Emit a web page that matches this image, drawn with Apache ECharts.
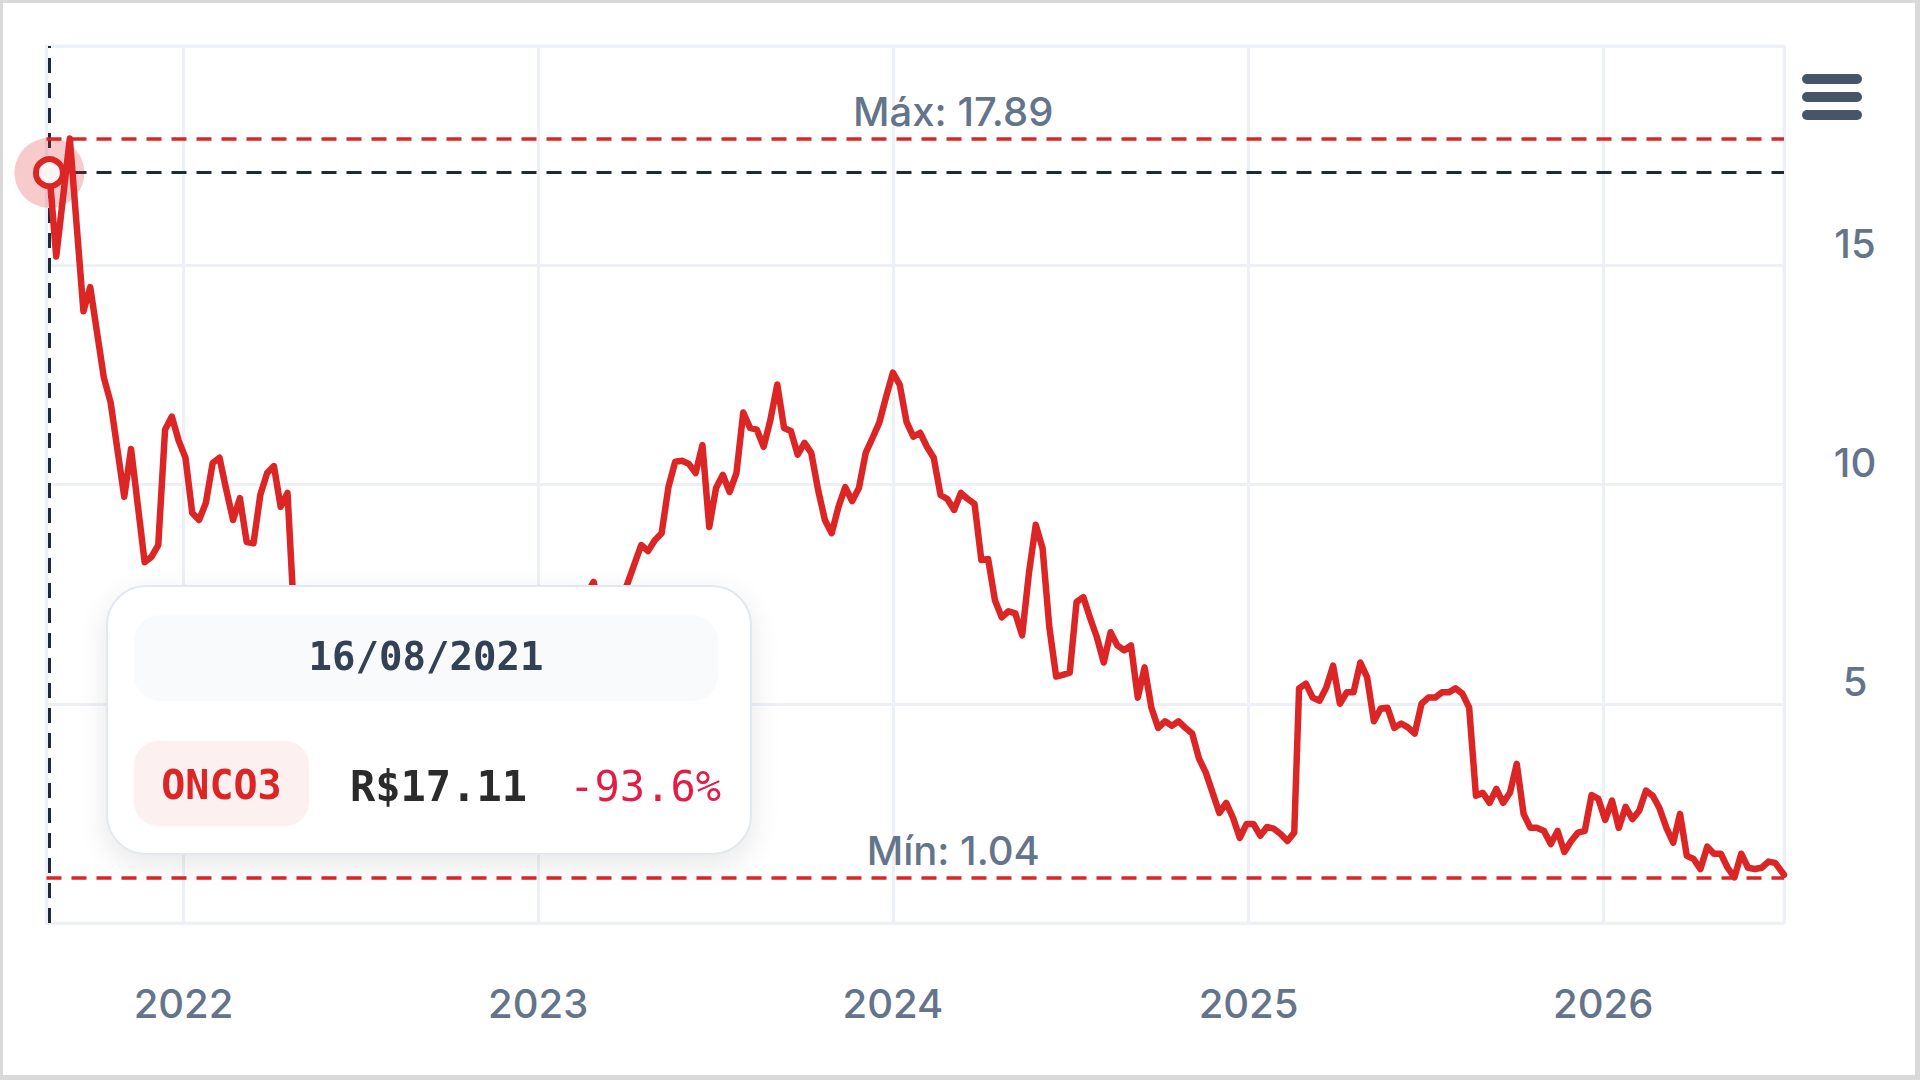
<!DOCTYPE html>
<html>
<head>
<meta charset="utf-8">
<script src="https://cdn.jsdelivr.net/npm/echarts@6/dist/echarts.min.js"></script>
<style>
  html, body { margin: 0; padding: 0; background: #ffffff; }
  #chart { position: absolute; left: 0; top: 0; width: 1920px; height: 1080px; }
  #frame { position: absolute; left: 0; top: 0; width: 1920px; height: 1080px; box-sizing: border-box;
           border-style: solid; border-color: #d9d9d9; border-width: 3px 5px 5px 3px; pointer-events: none; }
</style>
</head>
<body>
<div id="chart"></div>
<div id="frame"></div>
<script>
// ---------------- data ----------------
const ticker = 'ONCO3';
const maxLabel = 'Máx';
const minLabel = 'Mín';
const axisStart = '2021-08-13';   // time axis starts a few days before the first quote

const y2021 = [
  ['2021-08-16',17.11],['2021-08-23',15.20],['2021-09-06',17.89],['2021-09-20',13.95],['2021-09-27',14.50],
  ['2021-10-11',12.44],['2021-10-18',11.87],['2021-11-01',9.72],['2021-11-08',10.81],['2021-11-22',8.23],
  ['2021-11-29',8.35],['2021-12-06',8.62],['2021-12-13',11.25],['2021-12-20',11.55],['2021-12-27',11.00]
];
const y2022 = [
  ['2022-01-03',10.61],['2022-01-10',9.35],['2022-01-17',9.19],['2022-01-24',9.58],['2022-01-31',10.49],
  ['2022-02-07',10.61],['2022-02-14',9.88],['2022-02-21',9.19],['2022-02-28',9.69],['2022-03-07',8.69],
  ['2022-03-14',8.66],['2022-03-21',9.76],['2022-03-28',10.26],['2022-04-04',10.42],['2022-04-11',9.49],
  ['2022-04-18',9.81],['2022-04-25',6.90],['2022-05-02',6.55],['2022-05-09',6.85],['2022-05-16',6.30],
  ['2022-05-23',5.95],['2022-05-30',6.20],['2022-06-06',5.60],['2022-06-13',5.25],['2022-06-20',5.50],
  ['2022-06-27',4.95],['2022-07-04',5.30],['2022-07-11',5.80],['2022-07-18',5.40],['2022-07-25',6.10],
  ['2022-08-01',6.45],['2022-08-08',6.00],['2022-08-15',5.70],['2022-08-22',6.25],['2022-08-29',6.00],
  ['2022-09-05',5.50],['2022-09-12',5.10],['2022-09-19',5.40],['2022-09-26',4.85],['2022-10-03',5.05],
  ['2022-10-10',5.60],['2022-10-17',6.15],['2022-10-24',6.55],['2022-10-31',6.10],['2022-11-07',5.80],
  ['2022-11-14',5.30],['2022-11-21',5.00],['2022-11-28',5.35],['2022-12-05',5.20],['2022-12-12',4.90],
  ['2022-12-19',5.30],['2022-12-26',5.60]
];
const y2023 = [
  ['2023-01-02',5.90],['2023-01-09',6.40],['2023-01-16',6.20],['2023-01-23',6.80],['2023-01-30',7.10],
  ['2023-02-06',6.70],['2023-02-13',7.05],['2023-02-20',7.50],['2023-02-27',7.78],['2023-03-06',7.10],
  ['2023-03-13',6.90],['2023-03-20',7.20],['2023-03-27',7.35],['2023-04-03',7.75],['2023-04-17',8.62],
  ['2023-04-24',8.48],['2023-05-01',8.73],['2023-05-08',8.89],['2023-05-15',9.94],['2023-05-22',10.52],
  ['2023-05-29',10.54],['2023-06-05',10.47],['2023-06-12',10.26],['2023-06-19',10.90],['2023-06-26',9.03],
  ['2023-07-03',9.92],['2023-07-10',10.22],['2023-07-17',9.83],['2023-07-24',10.26],['2023-07-31',11.64],
  ['2023-08-07',11.29],['2023-08-14',11.25],['2023-08-21',10.86],['2023-08-28',11.48],['2023-09-04',12.28],
  ['2023-09-11',11.29],['2023-09-18',11.22],['2023-09-25',10.68],['2023-10-02',10.95],['2023-10-09',10.72],
  ['2023-10-16',9.88],['2023-10-23',9.19],['2023-10-30',8.89],['2023-11-06',9.49],['2023-11-13',9.94],
  ['2023-11-20',9.62],['2023-11-27',9.92],['2023-12-04',10.72],['2023-12-11',11.06],['2023-12-18',11.41],
  ['2023-12-25',12.00]
];
const y2024 = [
  ['2024-01-01',12.55],['2024-01-08',12.28],['2024-01-15',11.43],['2024-01-22',11.09],['2024-01-29',11.18],
  ['2024-02-05',10.86],['2024-02-12',10.61],['2024-02-19',9.76],['2024-02-26',9.67],['2024-03-04',9.42],
  ['2024-03-11',9.81],['2024-03-18',9.67],['2024-03-25',9.56],['2024-04-01',8.28],['2024-04-08',8.30],
  ['2024-04-15',7.36],['2024-04-22',6.97],['2024-04-29',7.11],['2024-05-06',7.06],['2024-05-13',6.56],
  ['2024-05-20',7.98],['2024-05-27',9.08],['2024-06-03',8.55],['2024-06-10',6.74],['2024-06-17',5.62],
  ['2024-06-24',5.66],['2024-07-01',5.71],['2024-07-08',7.32],['2024-07-15',7.43],['2024-07-22',6.95],
  ['2024-07-29',6.51],['2024-08-05',5.94],['2024-08-12',6.63],['2024-08-19',6.33],['2024-08-26',6.22],
  ['2024-09-02',6.33],['2024-09-09',5.14],['2024-09-16',5.83],['2024-09-23',4.91],['2024-09-30',4.45],
  ['2024-10-07',4.60],['2024-10-14',4.50],['2024-10-21',4.60],['2024-10-28',4.45],['2024-11-04',4.32],
  ['2024-11-11',3.75],['2024-11-18',3.43],['2024-12-02',2.51],['2024-12-09',2.74],['2024-12-16',2.40],
  ['2024-12-23',1.94],['2024-12-30',2.26]
];
const y2025 = [
  ['2025-01-06',2.26],['2025-01-13',1.99],['2025-01-20',2.19],['2025-01-27',2.15],['2025-02-03',2.03],
  ['2025-02-10',1.87],['2025-02-17',2.06],['2025-02-22',5.35],['2025-03-01',5.46],['2025-03-08',5.14],
  ['2025-03-15',5.07],['2025-03-22',5.37],['2025-03-29',5.87],['2025-04-05',5.00],['2025-04-12',5.26],
  ['2025-04-19',5.26],['2025-04-26',5.94],['2025-05-03',5.60],['2025-05-10',4.60],['2025-05-17',4.89],
  ['2025-05-24',4.91],['2025-05-31',4.45],['2025-06-07',4.55],['2025-06-14',4.46],['2025-06-21',4.32],
  ['2025-06-28',5.00],['2025-07-05',5.14],['2025-07-12',5.14],['2025-07-19',5.26],['2025-07-26',5.26],
  ['2025-08-02',5.35],['2025-08-09',5.23],['2025-08-16',4.91],['2025-08-23',2.90],['2025-08-30',2.97],
  ['2025-09-06',2.74],['2025-09-13',3.06],['2025-09-20',2.74],['2025-09-27',2.97],['2025-10-04',3.63],
  ['2025-10-11',2.49],['2025-10-18',2.17],['2025-10-25',2.17],['2025-11-01',2.10],['2025-11-08',1.80],
  ['2025-11-15',2.10],['2025-11-22',1.62],['2025-11-29',1.87],['2025-12-06',2.06],['2025-12-13',2.10],
  ['2025-12-20',2.92],['2025-12-27',2.83]
];
const y2026 = [
  ['2026-01-03',2.35],['2026-01-10',2.79],['2026-01-17',2.17],['2026-01-24',2.65],['2026-01-31',2.37],
  ['2026-02-07',2.56],['2026-02-14',3.02],['2026-02-21',2.90],['2026-02-28',2.61],['2026-03-07',2.17],
  ['2026-03-14',1.83],['2026-03-21',2.49],['2026-03-28',1.53],['2026-04-04',1.46],['2026-04-11',1.23],
  ['2026-04-18',1.74],['2026-04-25',1.58],['2026-05-02',1.58],['2026-05-09',1.26],['2026-05-16',1.04],
  ['2026-05-23',1.58],['2026-05-30',1.26],['2026-06-06',1.23],['2026-06-13',1.26],['2026-06-20',1.40],
  ['2026-06-27',1.37],['2026-07-06',1.10]
];
const yTickInterval = 5;
const yMin = 0, yMax = 20;

// ---------------- helpers ----------------
function toTs(s) { const p = s.split('-').map(Number); return new Date(p[0], p[1] - 1, p[2]).getTime(); }
function fmtDate(s) { const p = s.split('-'); return p[2] + '/' + p[1] + '/' + p[0]; }

const raw = [].concat(y2021, y2022, y2023, y2024, y2025, y2026);
const seriesData = raw.map(r => [toTs(r[0]), r[1]]);
const first = raw[0], last = raw[raw.length - 1];
const changePct = (last[1] - first[1]) / first[1] * 100;

const FONT = 'Inter';
const LABEL_COLOR = '#64748b';
const RED = '#dc2626';
const GRID_COLOR = '#edf1f7';
const CROSS = { color: '#1e293b', width: 3, type: [15, 10] };

const chart = echarts.init(document.getElementById('chart'), null, { renderer: 'svg', width: 1920, height: 1080 });

const option = {
  animation: false,
  backgroundColor: '#ffffff',
  textStyle: { fontFamily: FONT },
  grid: {
    left: 46.5, right: 136, top: 46, bottom: 157,
    show: true, borderColor: GRID_COLOR, borderWidth: 3, backgroundColor: 'transparent',
    containLabel: false, outerBoundsMode: 'none'
  },
  xAxis: {
    type: 'time',
    min: toTs(axisStart),
    max: seriesData[seriesData.length - 1][0],
    minInterval: 365 * 24 * 3600 * 1000,
    maxInterval: 366 * 24 * 3600 * 1000,
    axisLine: { show: false },
    axisTick: { show: false },
    splitLine: { show: true, lineStyle: { color: GRID_COLOR, width: 3 } },
    axisLabel: {
      formatter: '{yyyy}', showMinLabel: false, showMaxLabel: false,
      color: LABEL_COLOR, fontSize: 40, fontWeight: 500, fontFamily: FONT,
      margin: 60, lineHeight: 40
    }
  },
  yAxis: {
    type: 'value', position: 'right',
    min: yMin, max: yMax, interval: yTickInterval,
    axisLine: { show: false },
    axisTick: { show: false },
    splitLine: { show: true, lineStyle: { color: GRID_COLOR, width: 3 } },
    axisLabel: {
      showMinLabel: false, showMaxLabel: false,
      color: LABEL_COLOR, fontSize: 40, fontWeight: 500, fontFamily: FONT,
      align: 'center', margin: 71, verticalAlign: 'bottom', lineHeight: 44
    }
  },
  tooltip: {
    trigger: 'axis', triggerOn: 'none', alwaysShowContent: true,
    position: [106, 585],
    padding: 0, borderWidth: 2, borderColor: '#e2e8f0', borderRadius: 40,
    backgroundColor: '#ffffff', transitionDuration: 0, confine: false,
    extraCssText: 'box-shadow: 0 10px 30px rgba(15,23,42,0.10);',
    axisPointer: {
      type: 'cross', z: 1,
      label: { show: false },
      lineStyle: CROSS,
      crossStyle: CROSS
    },
    formatter: function (params) {
      const idx = params[0].dataIndex;
      const d = raw[idx];
      const mono = "'DejaVu Sans Mono', monospace";
      return '<div style="position:relative;width:642px;height:266px;font-family:' + mono + ';">' +
        '<div style="position:absolute;left:26px;top:28px;width:584px;height:86px;background:#f8fafc;border-radius:26px;' +
          'text-align:center;line-height:84px;font-size:39px;font-weight:700;color:#334155;">' + fmtDate(d[0]) + '</div>' +
        '<div style="position:absolute;left:26px;top:154px;width:175px;height:85px;background:#fcf0f0;border-radius:24px;' +
          'text-align:center;line-height:88px;font-size:40px;font-weight:700;color:' + RED + ';">' + ticker + '</div>' +
        '<div style="position:absolute;left:242px;top:157px;height:85px;line-height:85px;font-size:42px;font-weight:700;color:#2b2b2b;">R$' +
          d[1].toFixed(2) + '</div>' +
        '<div style="position:absolute;right:29px;top:157px;height:85px;line-height:85px;font-size:42px;color:#e11d48;">' +
          changePct.toFixed(1) + '%</div>' +
        '</div>';
    }
  },
  graphic: [{
    type: 'group', left: 1802, top: 74, silent: true,
    children: [
      { type: 'rect', shape: { x: 0, y: 0, width: 60, height: 10, r: 5 }, style: { fill: '#475569' } },
      { type: 'rect', shape: { x: 0, y: 18, width: 60, height: 10, r: 5 }, style: { fill: '#475569' } },
      { type: 'rect', shape: { x: 0, y: 36, width: 60, height: 10, r: 5 }, style: { fill: '#475569' } }
    ]
  }],
  series: [{
    type: 'line',
    name: ticker,
    data: seriesData,
    symbol: 'none',
    smooth: false,
    lineStyle: { color: RED, width: 6.5, join: 'round', cap: 'round' },
    itemStyle: { color: RED },
    emphasis: { disabled: true },
    markLine: {
      silent: true,
      symbol: ['none', 'none'],
      precision: 2,
      lineStyle: { color: RED, width: 3.5, type: [15, 10] },
      emphasis: { disabled: true },
      label: {
        show: true, position: 'insideMiddleTop', distance: 7, offset: [38, 0],
        color: LABEL_COLOR, fontSize: 40, fontFamily: FONT, fontWeight: 500, lineHeight: 40,
        formatter: p => p.name + ': ' + Number(p.value).toFixed(2)
      },
      data: [ { type: 'max', name: maxLabel }, { type: 'min', name: minLabel } ]
    },
    markPoint: {
      silent: true,
      symbol: 'circle',
      label: { show: false },
      emphasis: { disabled: true },
      data: [
        { coord: [seriesData[0][0], seriesData[0][1]], symbolSize: 70, itemStyle: { color: 'rgba(220,38,38,0.24)' } },
        { coord: [seriesData[0][0], seriesData[0][1]], symbolSize: 27, itemStyle: { color: '#fff4f4', borderColor: RED, borderWidth: 6 } }
      ]
    }
  }]
};

chart.setOption(option);
chart.dispatchAction({ type: 'showTip', seriesIndex: 0, dataIndex: 0 });
</script>
</body>
</html>
